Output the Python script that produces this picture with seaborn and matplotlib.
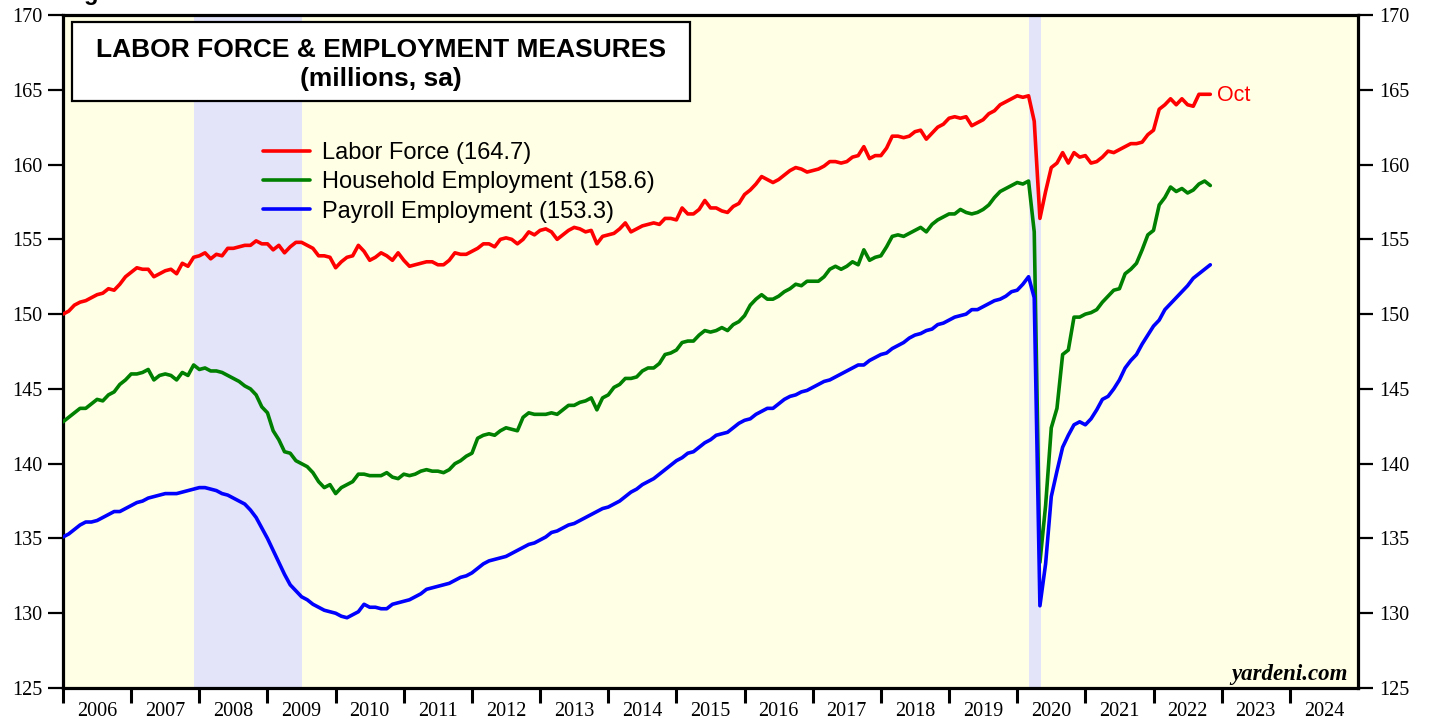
import numpy as np
import pandas as pd
import matplotlib
matplotlib.use("Agg")
import matplotlib.pyplot as plt
import seaborn as sns
from matplotlib.lines import Line2D
from matplotlib.patches import Rectangle

# -----------------------------
# Data (millions, sa), monthly Dec 2005 - Oct 2022
# -----------------------------

labor_force = [
    150.0,
    150.2, 150.6, 150.8, 150.9, 151.1, 151.3, 151.4, 151.7, 151.6, 152.0, 152.5, 152.8,  # 2006
    153.1, 153.0, 153.0, 152.5, 152.7, 152.9, 153.0, 152.7, 153.4, 153.2, 153.8, 153.9,  # 2007
    154.1, 153.7, 154.0, 153.9, 154.4, 154.4, 154.5, 154.6, 154.6, 154.9, 154.7, 154.7,  # 2008
    154.3, 154.6, 154.1, 154.5, 154.8, 154.8, 154.6, 154.4, 153.9, 153.9, 153.8, 153.1,  # 2009
    153.5, 153.8, 153.9, 154.6, 154.2, 153.6, 153.8, 154.1, 153.9, 153.6, 154.1, 153.6,  # 2010
    153.2, 153.3, 153.4, 153.5, 153.5, 153.3, 153.3, 153.6, 154.1, 154.0, 154.0, 154.2,  # 2011
    154.4, 154.7, 154.7, 154.5, 155.0, 155.1, 155.0, 154.7, 155.0, 155.5, 155.3, 155.6,  # 2012
    155.7, 155.5, 155.0, 155.3, 155.6, 155.8, 155.7, 155.5, 155.6, 154.7, 155.2, 155.3,  # 2013
    155.4, 155.7, 156.1, 155.5, 155.7, 155.9, 156.0, 156.1, 156.0, 156.4, 156.4, 156.3,  # 2014
    157.1, 156.7, 156.7, 157.0, 157.6, 157.1, 157.1, 156.9, 156.8, 157.2, 157.4, 158.0,  # 2015
    158.3, 158.7, 159.2, 159.0, 158.8, 159.0, 159.3, 159.6, 159.8, 159.7, 159.5, 159.6,  # 2016
    159.7, 159.9, 160.2, 160.2, 160.1, 160.2, 160.5, 160.6, 161.2, 160.4, 160.6, 160.6,  # 2017
    161.1, 161.9, 161.9, 161.8, 161.9, 162.2, 162.3, 161.7, 162.1, 162.5, 162.7, 163.1,  # 2018
    163.2, 163.1, 163.2, 162.6, 162.8, 163.0, 163.4, 163.6, 164.0, 164.2, 164.4, 164.6,  # 2019
    164.5, 164.6, 162.9, 156.4, 158.2, 159.8, 160.1, 160.8, 160.1, 160.8, 160.5, 160.6,  # 2020
    160.1, 160.2, 160.5, 160.9, 160.8, 161.0, 161.2, 161.4, 161.4, 161.5, 162.0, 162.3,  # 2021
    163.7, 164.0, 164.4, 164.0, 164.4, 164.0, 163.9, 164.7, 164.7, 164.7,                # 2022
]

household_emp = [
    142.8,
    143.1, 143.4, 143.7, 143.7, 144.0, 144.3, 144.2, 144.6, 144.8, 145.3, 145.6, 146.0,
    146.0, 146.1, 146.3, 145.6, 145.9, 146.0, 145.9, 145.6, 146.1, 145.9, 146.6, 146.3,
    146.4, 146.2, 146.2, 146.1, 145.9, 145.7, 145.5, 145.2, 145.0, 144.6, 143.8, 143.4,
    142.2, 141.6, 140.8, 140.7, 140.2, 140.0, 139.8, 139.4, 138.8, 138.4, 138.6, 138.0,
    138.4, 138.6, 138.8, 139.3, 139.3, 139.2, 139.2, 139.2, 139.4, 139.1, 139.0, 139.3,
    139.2, 139.3, 139.5, 139.6, 139.5, 139.5, 139.4, 139.6, 140.0, 140.2, 140.5, 140.7,
    141.7, 141.9, 142.0, 141.9, 142.2, 142.4, 142.3, 142.2, 143.1, 143.4, 143.3, 143.3,
    143.3, 143.4, 143.3, 143.6, 143.9, 143.9, 144.1, 144.2, 144.4, 143.6, 144.4, 144.6,
    145.1, 145.3, 145.7, 145.7, 145.8, 146.2, 146.4, 146.4, 146.7, 147.3, 147.4, 147.6,
    148.1, 148.2, 148.2, 148.6, 148.9, 148.8, 148.9, 149.1, 148.9, 149.3, 149.5, 149.9,
    150.6, 151.0, 151.3, 151.0, 151.0, 151.2, 151.5, 151.7, 152.0, 151.9, 152.2, 152.2,
    152.2, 152.5, 153.0, 153.2, 153.0, 153.2, 153.5, 153.3, 154.3, 153.6, 153.8, 153.9,
    154.5, 155.2, 155.3, 155.2, 155.4, 155.6, 155.8, 155.5, 156.0, 156.3, 156.5, 156.7,
    156.7, 157.0, 156.8, 156.7, 156.8, 157.0, 157.3, 157.8, 158.2, 158.4, 158.6, 158.8,
    158.7, 158.9, 155.5, 133.4, 137.2, 142.4, 143.7, 147.3, 147.6, 149.8, 149.8, 150.0,
    150.1, 150.3, 150.8, 151.2, 151.6, 151.7, 152.7, 153.0, 153.4, 154.3, 155.3, 155.6,
    157.3, 157.8, 158.5, 158.2, 158.4, 158.1, 158.3, 158.7, 158.9, 158.6,
]

payroll_emp = [
    135.1,
    135.3, 135.6, 135.9, 136.1, 136.1, 136.2, 136.4, 136.6, 136.8, 136.8, 137.0, 137.2,
    137.4, 137.5, 137.7, 137.8, 137.9, 138.0, 138.0, 138.0, 138.1, 138.2, 138.3, 138.4,
    138.4, 138.3, 138.2, 138.0, 137.9, 137.7, 137.5, 137.3, 136.9, 136.4, 135.7, 135.0,
    134.2, 133.4, 132.6, 131.9, 131.5, 131.1, 130.9, 130.6, 130.4, 130.2, 130.1, 130.0,
    129.8, 129.7, 129.9, 130.1, 130.6, 130.4, 130.4, 130.3, 130.3, 130.6, 130.7, 130.8,
    130.9, 131.1, 131.3, 131.6, 131.7, 131.8, 131.9, 132.0, 132.2, 132.4, 132.5, 132.7,
    133.0, 133.3, 133.5, 133.6, 133.7, 133.8, 134.0, 134.2, 134.4, 134.6, 134.7, 134.9,
    135.1, 135.4, 135.5, 135.7, 135.9, 136.0, 136.2, 136.4, 136.6, 136.8, 137.0, 137.1,
    137.3, 137.5, 137.8, 138.1, 138.3, 138.6, 138.8, 139.0, 139.3, 139.6, 139.9, 140.2,
    140.4, 140.7, 140.8, 141.1, 141.4, 141.6, 141.9, 142.0, 142.1, 142.4, 142.7, 142.9,
    143.0, 143.3, 143.5, 143.7, 143.7, 144.0, 144.3, 144.5, 144.6, 144.8, 144.9, 145.1,
    145.3, 145.5, 145.6, 145.8, 146.0, 146.2, 146.4, 146.6, 146.6, 146.9, 147.1, 147.3,
    147.4, 147.7, 147.9, 148.1, 148.4, 148.6, 148.7, 148.9, 149.0, 149.3, 149.4, 149.6,
    149.8, 149.9, 150.0, 150.3, 150.3, 150.5, 150.7, 150.9, 151.0, 151.2, 151.5, 151.6,
    152.0, 152.5, 151.1, 130.5, 133.3, 137.8, 139.5, 141.1, 141.9, 142.6, 142.8, 142.6,
    143.0, 143.6, 144.3, 144.5, 145.0, 145.6, 146.4, 146.9, 147.3, 148.0, 148.6, 149.2,
    149.6, 150.3, 150.7, 151.1, 151.5, 151.9, 152.4, 152.7, 153.0, 153.3,
]

series_names = ["Labor Force", "Household Employment", "Payroll Employment"]
series_colors = ["#FF0000", "#008000", "#0000FF"]

# recessions (start, end) in decimal years
recession_starts = [2007.92, 2020.17]
recession_ends = [2009.50, 2020.35]

years = np.arange(2006, 2025)

# -----------------------------
# Frame
# -----------------------------

# monthly points placed at month end, first point = Dec 2005
t = 2006 + np.arange(len(labor_force)) / 12.0
df = pd.DataFrame({
    "t": t,
    "Labor Force": labor_force,
    "Household Employment": household_emp,
    "Payroll Employment": payroll_emp,
}).melt(id_vars="t", var_name="series", value_name="value")

# -----------------------------
# Plot
# -----------------------------

sns.set_style("ticks")
plt.rcParams["font.family"] = ["Liberation Sans", "DejaVu Sans"]
plt.rcParams["text.color"] = "black"
plt.rcParams["xtick.color"] = "black"
plt.rcParams["ytick.color"] = "black"
plt.rcParams["axes.labelcolor"] = "black"

fig = plt.figure(figsize=(14.29, 7.19), dpi=100)
ax = fig.add_axes([0.0441, 0.0431, 0.9062, 0.9360])
ax.set_facecolor("#FFFFE6")

for s, e in zip(recession_starts, recession_ends):
    ax.axvspan(s, e, color="#E3E3FA", lw=0, zorder=0.5)

sns.lineplot(data=df, x="t", y="value", hue="series", hue_order=series_names,
             palette=dict(zip(series_names, series_colors)), linewidth=2.6,
             legend=False, ax=ax, zorder=3)

ax.set_xlim(2006, 2025)
ax.set_ylim(125, 170)
ax.set_xlabel("")
ax.set_ylabel("")

# axes / ticks
for sp in ax.spines.values():
    sp.set_visible(True)
    sp.set_linewidth(2.3)
    sp.set_color("black")

ax.set_xticks(years, minor=False)
ax.set_xticklabels([])
ax.set_xticks(years + 0.5, minor=True)
ax.set_xticklabels([str(y) for y in years], minor=True,
                   fontfamily="Liberation Serif", fontsize=14.5)
ax.tick_params(axis="x", which="major", length=11, width=2.2, direction="out")
ax.tick_params(axis="x", which="minor", length=0, pad=10)

yt = np.arange(125, 171, 5)
ax.set_yticks(yt)
ax.set_yticklabels([str(v) for v in yt], fontfamily="Liberation Serif", fontsize=14.5)
ax.tick_params(axis="y", which="major", left=True, right=True, labelleft=True,
               labelright=True, length=11, width=1.6, pad=4, direction="out")
for lbl in ax.get_yticklabels(which="major"):
    lbl.set_fontfamily("Liberation Serif")

# title box
ax.add_patch(Rectangle((0.007, 0.872), 0.477, 0.1176, transform=ax.transAxes,
                       facecolor="white", edgecolor="black", lw=1.6, zorder=6))
ax.text(0.2456, 0.948, "LABOR FORCE & EMPLOYMENT MEASURES", transform=ax.transAxes,
        ha="center", va="center", fontsize=19, fontweight="bold", zorder=7)
ax.text(0.2456, 0.9045, "(millions, sa)", transform=ax.transAxes,
        ha="center", va="center", fontsize=19, fontweight="bold", zorder=7)

# legend
latest = [labor_force[-1], household_emp[-1], payroll_emp[-1]]
handles = [Line2D([0], [0], color=c, lw=2.6) for c in series_colors]
labels = [f"{n} ({v:.1f})" for n, v in zip(series_names, latest)]
leg = ax.legend(handles, labels, loc="upper left", bbox_to_anchor=(0.1544, 0.8115),
                frameon=False, fontsize=17, handlelength=2.0, handletextpad=0.5,
                labelspacing=0.31, borderaxespad=0, borderpad=0)
leg.set_zorder(7)

ax.text(t[-1] + 0.1, labor_force[-1] - 0.1, "Oct", color="#FF0000", fontsize=15.5,
        ha="left", va="center")

ax.text(0.9923, 0.012, "yardeni.com", transform=ax.transAxes, ha="right",
        va="baseline", fontsize=16.5, fontweight="bold", fontstyle="italic",
        fontfamily="Liberation Serif")

fig.text(0.044, 1.0, "Figure", ha="left", va="baseline", fontsize=17,
         fontweight="bold")

fig.savefig("out.png", dpi=100)
